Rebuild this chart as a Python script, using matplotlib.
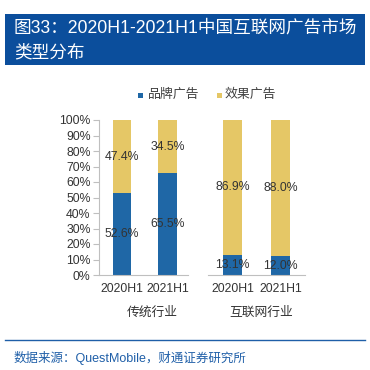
import matplotlib
matplotlib.use("Agg")
from matplotlib import pyplot as plt
from matplotlib.patches import Rectangle

plt.rcParams['font.family'] = ['Liberation Sans', 'Noto Sans CJK SC']

# data
periods = ['2020H1', '2021H1']
groups = ['传统行业', '互联网行业']
brand = [[52.6, 65.5], [13.1, 12.0]]      # 品牌广告
effect = [[47.4, 34.5], [86.9, 88.0]]     # 效果广告
series_names = ['品牌广告', '效果广告']

c_brand = '#1F67A6'
c_effect = '#E5C766'
txt = '#333333'
W = H = 370.0

fig = plt.figure(figsize=(3.7, 3.7), dpi=100)

# title box
fig.add_artist(Rectangle((5 / W, 1 - 65 / H), 360 / W, 51 / H, transform=fig.transFigure,
                         facecolor='#0B4E9C', edgecolor='none'))
fig.text(14 / W, 1 - 28 / H, '图33：2020H1-2021H1中国互联网广告市场', color='white',
         fontsize=12.7, va='center', ha='left')
fig.text(14 / W, 1 - 53 / H, '类型分布', color='white', fontsize=12.7, va='center', ha='left')

# axes: [left px, right px, xlim]
specs = [(99, 188, (-0.505, 1.45)), (208, 305, (-0.51, 1.51))]
for i, (l, r, xl) in enumerate(specs):
    ax = fig.add_axes([l / W, 1 - 275 / H, (r - l) / W, (275 - 120) / H])
    x = range(len(periods))
    ax.bar(x, brand[i], width=0.4, color=c_brand)
    ax.bar(x, effect[i], width=0.4, bottom=brand[i], color=c_effect)
    for j in x:
        ax.text(j, brand[i][j] / 2, f'{brand[i][j]:.1f}%', ha='center', va='center',
                fontsize=8.8, color=txt)
        ax.text(j, brand[i][j] + effect[i][j] / 2, f'{effect[i][j]:.1f}%', ha='center',
                va='center', fontsize=8.8, color=txt)
    ax.set_xlim(*xl)
    ax.set_ylim(0, 100)
    ax.set_xticks(list(x))
    ax.set_xticklabels(periods, fontsize=8.8, color=txt)
    ax.tick_params(axis='x', length=0, pad=6)
    for s in ['top', 'right']:
        ax.spines[s].set_visible(False)
    ax.spines['bottom'].set_color('#BFBFBF')
    ax.set_facecolor('none')
    if i == 0:
        ax.set_yticks(range(0, 101, 10))
        ax.set_yticklabels([f'{v}%' for v in range(0, 101, 10)], fontsize=8.8, color=txt)
        ax.spines['left'].set_color('#BFBFBF')
        ax.tick_params(axis='y', length=4, color='#BFBFBF', pad=2)
    else:
        ax.spines['left'].set_visible(False)
        ax.set_yticks([])
    ax.text(0.5 + (0.1 if i == 0 else 0.05), -0.245, groups[i], transform=ax.transAxes,
            ha='center', va='center', fontsize=9.2, color=txt)

# legend
for (sx, tx), c, name in zip([(138, 148), (217, 225)], [c_brand, c_effect], series_names):
    fig.add_artist(Rectangle((sx / W, 1 - 98 / H), 5 / W, 5 / H, transform=fig.transFigure,
                             facecolor=c, edgecolor='none'))
    fig.text(tx / W, 1 - 95 / H, name, fontsize=9.3, color='#404040', va='center', ha='left')

# footer
fig.add_artist(plt.Line2D([5 / W, 365 / W], [1 - 340 / H, 1 - 340 / H],
                          transform=fig.transFigure, color='#1F5FA8', lw=1))
fig.text(14 / W, 1 - 358 / H, '数据来源：QuestMobile，财通证券研究所', fontsize=9,
         color='#1F5FA8', va='center', ha='left')

fig.savefig('out.png', dpi=100)
